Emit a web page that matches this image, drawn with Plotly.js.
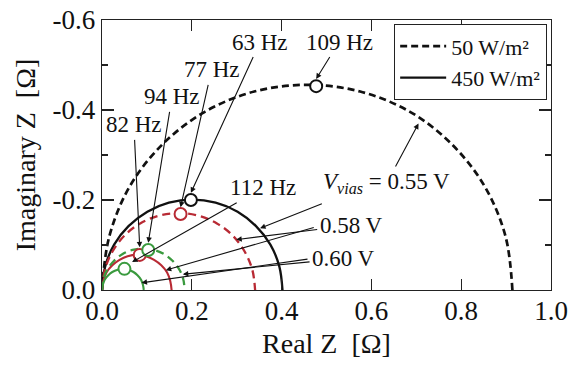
<!DOCTYPE html>
<html>
<head>
<meta charset="utf-8">
<script src="https://cdn.plot.ly/plotly-3.0.1.min.js"></script>
<style>
  html, body { margin: 0; padding: 0; background: #fff; }
  #chart { width: 569px; height: 367px; }
</style>
</head>
<body>
<div id="chart"></div>
<script>
// ---- Data (Nyquist plots) ----
// 50 W/m2, Vbias = 0.55 V (black dashed)
const x50_055 = [0, 0.016, 0.061, 0.134, 0.229, 0.339, 0.457, 0.575, 0.686, 0.780, 0.853, 0.899, 0.914];
const y50_055 = [0, -0.118, -0.229, -0.323, -0.396, -0.441, -0.456, -0.441, -0.396, -0.323, -0.229, -0.118, 0];
// 450 W/m2, Vbias = 0.55 V (black solid)
const x450_055 = [0, 0.007, 0.027, 0.059, 0.101, 0.149, 0.201, 0.253, 0.302, 0.343, 0.375, 0.395, 0.402];
const y450_055 = [0, -0.052, -0.101, -0.142, -0.174, -0.194, -0.201, -0.194, -0.174, -0.142, -0.101, -0.052, 0];
// 50 W/m2, Vbias = 0.58 V (red dashed)
const x50_058 = [0, 0.006, 0.023, 0.050, 0.085, 0.126, 0.171, 0.215, 0.256, 0.291, 0.318, 0.335, 0.341];
const y50_058 = [0, -0.044, -0.085, -0.121, -0.148, -0.165, -0.171, -0.165, -0.148, -0.121, -0.085, -0.044, 0];
// 450 W/m2, Vbias = 0.58 V (red solid)
const x450_058 = [0, 0.003, 0.010, 0.023, 0.039, 0.057, 0.078, 0.098, 0.116, 0.132, 0.145, 0.152, 0.155];
const y450_058 = [0, -0.020, -0.039, -0.055, -0.067, -0.075, -0.078, -0.075, -0.067, -0.055, -0.039, -0.020, 0];
// 50 W/m2, Vbias = 0.60 V (green dashed)
const x50_060 = [0, 0.003, 0.012, 0.027, 0.046, 0.068, 0.092, 0.116, 0.138, 0.157, 0.172, 0.181, 0.184];
const y50_060 = [0, -0.024, -0.046, -0.065, -0.080, -0.089, -0.092, -0.089, -0.080, -0.065, -0.046, -0.024, 0];
// 450 W/m2, Vbias = 0.60 V (green solid)
const x450_060 = [0, 0.002, 0.006, 0.014, 0.023, 0.035, 0.047, 0.059, 0.070, 0.079, 0.087, 0.091, 0.093];
const y450_060 = [0, -0.012, -0.023, -0.033, -0.040, -0.045, -0.047, -0.045, -0.040, -0.033, -0.023, -0.012, 0];

// Characteristic-frequency points (apex markers)
const peakLabels = ['109 Hz', '63 Hz', '77 Hz', '82 Hz', '94 Hz', '112 Hz'];
const peakX = [0.477, 0.198, 0.175, 0.084, 0.103, 0.050];
const peakY = [-0.453, -0.200, -0.169, -0.078, -0.089, -0.047];
const peakColor = ['#111111', '#111111', '#b82a34', '#b82a34', '#3a9a3e', '#3a9a3e'];

// Legend / bias labels
const legendNames = ['50 W/m²', '450 W/m²'];
const biasLabels = ['<i>V</i><sub><i>vias</i></sub> = 0.55 V', '0.58 V', '0.60 V'];

// Axis ticks
const xTickVals = [0, 0.2, 0.4, 0.6, 0.8, 1.0];
const xTickText = ['0.0', '0.2', '0.4', '0.6', '0.8', '1.0'];
const yTickVals = [0, -0.2, -0.4, -0.6];
const yTickText = ['0.0', '-0.2', '-0.4', '-0.6'];

// ---- Styling ----
const FONT = '"Liberation Serif", "Times New Roman", Times, serif';
const BLACK = '#111111', RED = '#b82a34', GREEN = '#3a9a3e';

function curve(x, y, color, dash, width, name, show) {
  return {
    type: 'scatter', mode: 'lines', x: x, y: y, name: name,
    showlegend: !!show, hoverinfo: 'skip',
    line: { color: color, dash: dash, width: width, shape: 'spline', smoothing: 1 }
  };
}

const traces = [
  curve(x50_055, y50_055, BLACK, '7px,4px', 2.7, legendNames[0], true),
  curve(x450_055, y450_055, BLACK, 'solid', 2.3, legendNames[1], true),
  curve(x50_058, y50_058, RED, '8px,5px', 2.3, '50 W/m2 0.58 V'),
  curve(x450_058, y450_058, RED, 'solid', 2.1, '450 W/m2 0.58 V'),
  curve(x50_060, y50_060, GREEN, '8px,5px', 2.3, '50 W/m2 0.60 V'),
  curve(x450_060, y450_060, GREEN, 'solid', 2.1, '450 W/m2 0.60 V'),
  {
    type: 'scatter', mode: 'markers', x: peakX, y: peakY, name: 'apex', showlegend: false, hoverinfo: 'skip',
    marker: { symbol: 'circle', size: 12, color: '#ffffff', line: { color: peakColor, width: 2 } }
  }
];

// Label text centres (data coords); arrow heads point at the apex markers
const labelPos = {
  '109 Hz': [0.528, -0.551], '63 Hz': [0.352, -0.551], '77 Hz': [0.244, -0.489],
  '94 Hz': [0.156, -0.429], '82 Hz': [0.071, -0.367], '112 Hz': [0.359, -0.227]
};
const arrowHeadOffset = { '109 Hz': 0.016, '63 Hz': 0.016, '77 Hz': 0.015, '82 Hz': 0.017, '94 Hz': 0.016, '112 Hz': 0 };

const annotations = [];
const txtFont = { family: FONT, size: 23, color: BLACK };
const arrowStyle = { arrowhead: 2, arrowsize: 1, arrowwidth: 1.1, arrowcolor: BLACK, standoff: 0 };

function labelArrow(text, cx, cy, hx, hy) {
  annotations.push(Object.assign({
    x: hx, y: hy, ax: cx, ay: cy, xref: 'x', yref: 'y', axref: 'x', ayref: 'y',
    text: text, showarrow: true, xanchor: 'center', yanchor: 'middle', font: txtFont, borderpad: 2
  }, arrowStyle));
}
function bareArrow(tx, ty, hx, hy) {
  annotations.push(Object.assign({
    x: hx, y: hy, ax: tx, ay: ty, xref: 'x', yref: 'y', axref: 'x', ayref: 'y',
    text: '', showarrow: true
  }, arrowStyle));
}

peakLabels.forEach(function (lab, i) {
  const p = labelPos[lab];
  let hx = peakX[i], hy = peakY[i] - arrowHeadOffset[lab];
  if (lab === '112 Hz') { hx = 0.067; hy = -0.062; }
  labelArrow(lab, p[0], p[1], hx, hy);
});

// Bias-voltage labels, each with arrows to its two curves
labelArrow(biasLabels[0], 0.634, -0.238, 0.705, -0.370);
bareArrow(0.493, -0.193, 0.352, -0.137);
labelArrow(biasLabels[1], 0.555, -0.144, 0.299, -0.112);
bareArrow(0.475, -0.140, 0.142, -0.044);
labelArrow(biasLabels[2], 0.538, -0.070, 0.180, -0.035);
bareArrow(0.461, -0.069, 0.088, -0.016);

const layout = {
  width: 569, height: 367,
  margin: { l: 101.5, r: 18, t: 20, b: 77 },
  paper_bgcolor: '#ffffff', plot_bgcolor: '#ffffff',
  font: { family: FONT, color: BLACK },
  showlegend: true,
  legend: {
    x: 0.991, y: 0.985, xanchor: 'right', yanchor: 'top',
    bgcolor: '#ffffff', bordercolor: '#222222', borderwidth: 1.2,
    font: { family: FONT, size: 22, color: BLACK }, tracegroupgap: 0, itemwidth: 46
  },
  xaxis: {
    range: [0, 1.0], tickmode: 'array', tickvals: xTickVals, ticktext: xTickText,
    ticks: 'inside', ticklen: 11, tickwidth: 1.2, tickcolor: '#222',
    showline: true, linecolor: '#222', linewidth: 1.3, mirror: 'ticks',
    showgrid: false, zeroline: false, ticklabelstandoff: -4,
    tickfont: { family: FONT, size: 27, color: BLACK },
    title: { text: 'Real Z  [Ω]', font: { family: FONT, size: 28, color: BLACK }, standoff: 8 }
  },
  yaxis: {
    range: [0, -0.6], tickmode: 'array', tickvals: yTickVals, ticktext: yTickText,
    ticks: 'inside', ticklen: 12, tickwidth: 1.2, tickcolor: '#222',
    minor: { tickmode: 'linear', tick0: 0, dtick: 0.1, ticks: 'inside', ticklen: 6, tickwidth: 1.2, tickcolor: '#222', showgrid: false },
    showline: true, linecolor: '#222', linewidth: 1.3, mirror: 'ticks',
    showgrid: false, zeroline: false,
    tickfont: { family: FONT, size: 27, color: BLACK },
    title: { text: 'Imaginary Z  [Ω]', font: { family: FONT, size: 28, color: BLACK }, standoff: 8 }
  },
  annotations: annotations
};

Plotly.newPlot('chart', traces, layout, { displayModeBar: false, staticPlot: true });
</script>
</body>
</html>
